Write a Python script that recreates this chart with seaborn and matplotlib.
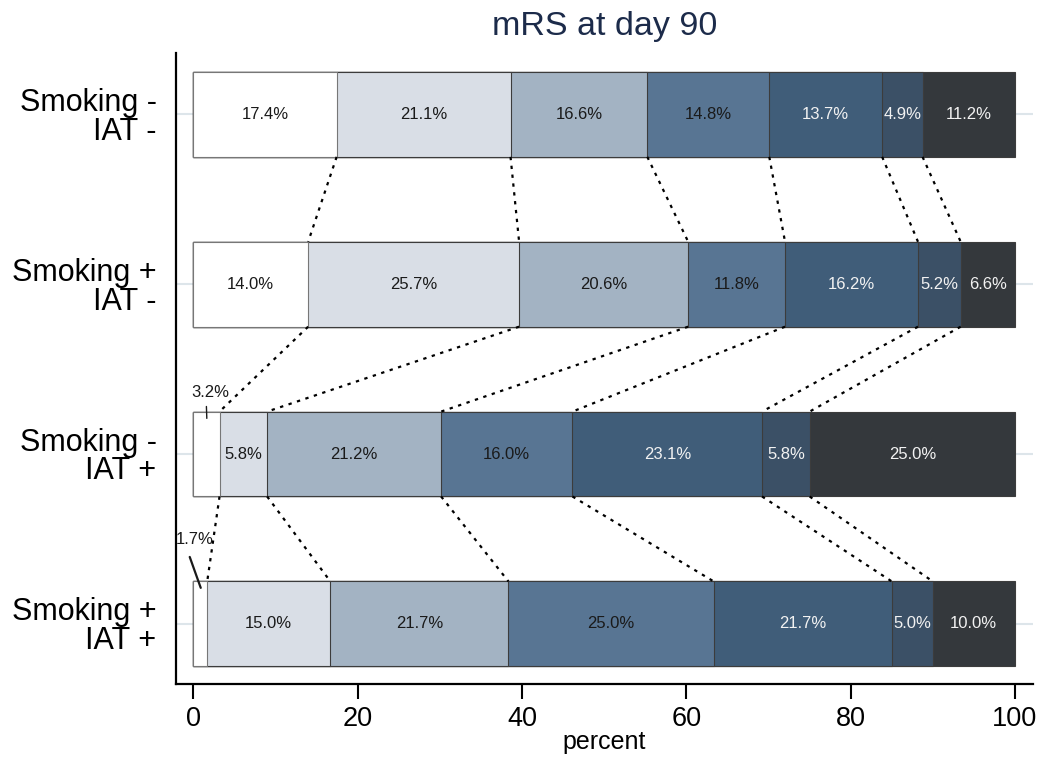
import matplotlib
matplotlib.use("Agg")
import matplotlib.pyplot as plt
import numpy as np
import seaborn as sns

# mRS distribution (percent) per group, mRS 0..6
groups = ["Smoking -\nIAT -", "Smoking +\nIAT -", "Smoking -\nIAT +", "Smoking +\nIAT +"]
mrs_ss = [17.4, 21.1, 16.6, 14.8, 13.7, 4.9, 11.2]
mrs_ps = [14.0, 25.7, 20.6, 11.8, 16.2, 5.2, 6.6]
mrs_si = [3.2, 5.8, 21.2, 16.0, 23.1, 5.8, 25.0]
mrs_pi = [1.7, 15.0, 21.7, 25.0, 21.7, 5.0, 10.0]
tick_vals = [0, 20, 40, 60, 80, 100]

colors = ["#ffffff", "#d9dee6", "#a3b3c3", "#587593", "#405d79", "#3b5066", "#34383c"]
text_colors = ["#1a1a1a"] * 4 + ["#f2f2f2"] * 3

sns.set_theme(style="white")
plt.rcParams["font.family"] = ["Liberation Sans", "DejaVu Sans"]
plt.rcParams["text.color"] = "black"
plt.rcParams["xtick.color"] = "black"
plt.rcParams["ytick.color"] = "black"
plt.rcParams["axes.labelcolor"] = "black"

vals = np.array([mrs_ss, mrs_ps, mrs_si, mrs_pi])
pct = vals / vals.sum(axis=1, keepdims=True) * 100  # widths scaled so every row ends at 100
cum = np.cumsum(pct, axis=1)
bar_h = 0.5

fig = plt.figure(figsize=(10.54, 7.61), dpi=100)
ax = fig.add_axes([0.167, 0.101, 0.813, 0.829])

# stacked bars: draw cumulative layers from longest to shortest
for k in range(6, -1, -1):
    sns.barplot(x=cum[:, k], y=groups, color=colors[k], width=bar_h,
                edgecolor="#3c3c3c" if k > 0 else "#777777", linewidth=0.8,
                saturation=1, errorbar=None, ax=ax, zorder=2)

# segment labels
for i in range(len(groups)):
    for k in range(7):
        if vals[i, k] < 4:
            continue
        mid = cum[i, k] - pct[i, k] / 2
        ax.text(mid, i, f"{vals[i, k]:.1f}%", ha="center", va="center",
                fontsize=12, color=text_colors[k], zorder=4)

# small segments labelled outside with a leader line
top3 = 2 - bar_h / 2
ax.text(pct[2, 0] / 2 + 0.5, top3 - 0.115, f"{vals[2, 0]:.1f}%", ha="center",
        va="center", fontsize=12, color="#1a1a1a")
ax.plot([pct[2, 0] / 2, pct[2, 0] / 2 + 0.05], [top3 - 0.03, top3 + 0.04],
        color="#1a1a1a", lw=1.0, zorder=5)
top4 = 3 - bar_h / 2
ax.text(pct[3, 0] / 2 - 0.65, top4 - 0.244, f"{vals[3, 0]:.1f}%", ha="center",
        va="center", fontsize=12, color="#1a1a1a")
ax.plot([pct[3, 0] / 2 - 1.28, pct[3, 0] / 2 + 0.06], [top4 - 0.144, top4 + 0.038],
        color="#1a1a1a", lw=1.6, zorder=5)

# dotted connectors between matching category boundaries
for i in range(len(groups) - 1):
    for k in range(6):
        ax.plot([cum[i, k], cum[i + 1, k]], [i + bar_h / 2, i + 1 - bar_h / 2],
                ls=(0, (1.5, 2.5)), color="black", lw=1.6, zorder=3)

ax.set_xlim(-2.1, 102.2)
ax.set_ylim(3.355, -0.36)
ax.set_xticks(tick_vals)
ax.set_xticklabels([str(t) for t in tick_vals], fontsize=19.5)
ax.set_yticks(range(len(groups)))
ax.set_yticklabels(groups, fontsize=22, linespacing=0.95)
ax.tick_params(axis="x", bottom=True, direction="out", length=11, width=1.5,
               color="black", pad=5)
ax.tick_params(axis="y", left=False, length=0, pad=14)
ax.yaxis.grid(True, color="#dde5ea", lw=1.5, zorder=0)
ax.xaxis.grid(False)
ax.set_axisbelow(True)
ax.set_xlabel("percent", fontsize=18, labelpad=-2)
ax.set_ylabel("")
ax.set_title("mRS at day 90", fontsize=24.5, color="#1c2b4a", pad=13)

sns.despine(ax=ax, top=True, right=True)
for side in ["left", "bottom"]:
    ax.spines[side].set_color("black")
    ax.spines[side].set_linewidth(1.6)

fig.savefig("out.png", dpi=100, facecolor="white")
